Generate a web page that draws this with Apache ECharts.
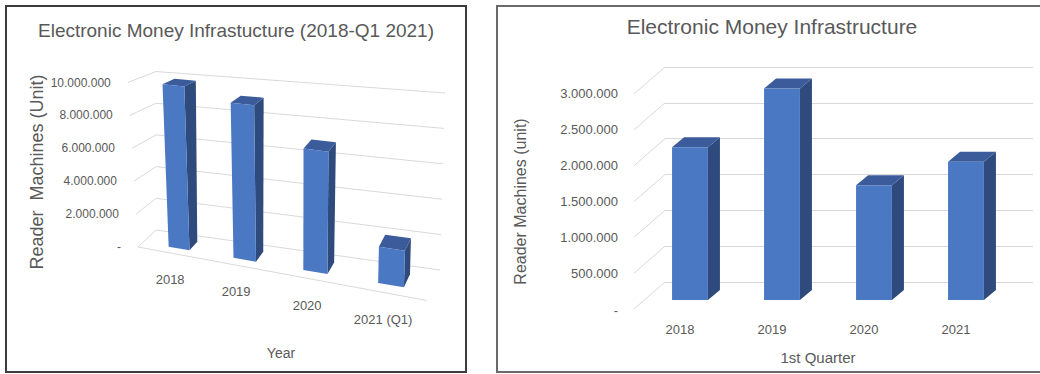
<!DOCTYPE html>
<html><head><meta charset="utf-8">
<script src="https://cdn.jsdelivr.net/npm/echarts@6/dist/echarts.min.js"></script>
<style>html,body{margin:0;padding:0;background:#fff}#c{width:1040px;height:374px}</style>
</head><body><div id="c"></div>
<script>
// ---- data ----
const leftCategories = ['2018', '2019', '2020', '2021 (Q1)'];
const leftValues = [9870000, 9200000, 7000000, 2030000];
const leftTicks = [0, 2000000, 4000000, 6000000, 8000000, 10000000];
const rightCategories = ['2018', '2019', '2020', '2021'];
const rightValues = [2130000, 2950000, 1600000, 1930000];
const rightTicks = [0, 500000, 1000000, 1500000, 2000000, 2500000, 3000000];

const leftTitle = 'Electronic Money Infrastucture (2018-Q1 2021)';
const rightTitle = 'Electronic Money Infrastructure';

// ---- style ----
const TXT = '#595959';
const GRIDC = '#d9d9d9';
const FRONT = '#4a78c3';
const SIDE = '#2f4a7c';
const TOP = '#3b5b9a';
const FONT = 'Liberation Sans';

function fmt(v) {
  if (v === 0) return '-';
  return String(v).replace(/\B(?=(\d{3})+(?!\d))/g, '.');
}

// ---- left perspective box (screen corners of the 3D box) ----
const BK = { lb: [161, 230.7], lt: [161, 71.9], rb: [440, 270], rt: [445, 93] };
const FR = { lb: [143, 247.9], lt: [133, 83.1], rb: [427, 300.5], rt: [434, 117] };
const W0 = -0.0175;
function lerp(a, b, t) { return a + (b - a) * t; }
function lerp2(p, q, t) { return [lerp(p[0], q[0], t), lerp(p[1], q[1], t)]; }
function proj(w, h, d) {
  const b = lerp2(lerp2(BK.lb, BK.rb, w), lerp2(BK.lt, BK.rt, w), h);
  const f = lerp2(lerp2(FR.lb, FR.rb, w), lerp2(FR.lt, FR.rt, w), h);
  return lerp2(b, f, d);
}
function warp(u) { return u - 0.141 * u * (1 - u); }

const chart = echarts.init(document.getElementById('c'), null, { renderer: 'svg' });

const option = {
  animation: false,
  textStyle: { fontFamily: FONT },
  graphic: [
    { type: 'rect', shape: { x: 6, y: 6, width: 460, height: 366 }, style: { fill: 'none', stroke: '#3c3c3c', lineWidth: 2 }, silent: true },
    { type: 'rect', shape: { x: 497, y: 6, width: 546, height: 366 }, style: { fill: 'none', stroke: '#6a6a6a', lineWidth: 2 }, silent: true },
    { type: 'text', x: 236, y: 30, style: { text: leftTitle, fill: TXT, font: '19px ' + FONT, align: 'center', verticalAlign: 'middle' } },
    { type: 'text', x: 772, y: 26, style: { text: rightTitle, fill: TXT, font: '21px ' + FONT, align: 'center', verticalAlign: 'middle' } },
    { type: 'text', x: 37, y: 172, rotation: Math.PI / 2, style: { text: 'Reader  Machines (Unit)', fill: TXT, font: '18px ' + FONT, align: 'center', verticalAlign: 'middle' } },
    { type: 'text', x: 281, y: 353, style: { text: 'Year', fill: TXT, font: '14px ' + FONT, align: 'center', verticalAlign: 'middle' } }
  ],
  grid: [
    { left: 665, top: 67, width: 368, height: 215 },
    { left: 634, top: 93, width: 368, height: 217 },
    { left: 150, top: 80, width: 280, height: 170 }
  ],
  xAxis: [
    { gridIndex: 0, type: 'category', data: rightCategories, show: false },
    { gridIndex: 1, type: 'category', data: rightCategories,
      axisLine: { show: false }, axisTick: { show: false },
      axisLabel: { margin: 13, color: TXT, fontSize: 13, fontFamily: FONT },
      name: '1st Quarter', nameLocation: 'middle', nameGap: 40,
      nameTextStyle: { color: TXT, fontSize: 15, fontFamily: FONT } },
    { gridIndex: 2, type: 'category', data: leftCategories, show: false }
  ],
  yAxis: [
    { gridIndex: 0, type: 'value', min: 0, max: 3000000, interval: 500000,
      axisLabel: { show: false }, axisLine: { show: false }, axisTick: { show: false },
      splitLine: { lineStyle: { color: GRIDC, width: 1 } } },
    { gridIndex: 1, type: 'value', min: 0, max: 3000000, interval: 500000,
      axisLine: { show: false }, axisTick: { show: false }, splitLine: { show: false },
      axisLabel: { formatter: fmt, margin: 16, color: TXT, fontSize: 13, fontFamily: FONT },
      name: 'Reader Machines (unit)', nameLocation: 'middle', nameGap: 106, nameRotate: 90,
      nameTextStyle: { color: TXT, fontSize: 16, fontFamily: FONT } },
    { gridIndex: 2, type: 'value', min: 0, max: 10000000, show: false }
  ],
  series: [
    // right chart: side-wall diagonals
    {
      type: 'custom', xAxisIndex: 0, yAxisIndex: 0, silent: true, z: 1,
      data: rightTicks.map(v => [0, v]),
      renderItem(params, api) {
        const rect = params.coordSys;
        const c = api.coord([0, api.value(1)]);
        return { type: 'line', shape: { x1: rect.x, y1: c[1], x2: rect.x - 31, y2: c[1] + 27 },
          style: { stroke: GRIDC, lineWidth: 1 } };
      }
    },
    // right chart: 3D bars
    {
      type: 'custom', xAxisIndex: 0, yAxisIndex: 0, silent: true, z: 3,
      data: rightValues.map((v, i) => [i, v]),
      renderItem(params, api) {
        const i = api.value(0), v = api.value(1);
        const c = api.coord([i, v]);
        const c0 = api.coord([i, 0]);
        const bw = api.size([1, 0])[0] * 0.39;
        const FX = -21, FY = 18, SX = 12, SY = -10;
        const xl = c[0] + FX - bw / 2, xr = c[0] + FX + bw / 2;
        const yt = c[1] + FY, yb = c0[1] + FY;
        return { type: 'group', children: [
          { type: 'polygon', shape: { points: [[xr, yb], [xr + SX, yb + SY], [xr + SX, yt + SY], [xr, yt]] }, style: { fill: SIDE } },
          { type: 'polygon', shape: { points: [[xl, yt], [xr, yt], [xr + SX, yt + SY], [xl + SX, yt + SY]] }, style: { fill: TOP } },
          { type: 'rect', shape: { x: xl, y: yt, width: bw, height: yb - yt }, style: { fill: FRONT } }
        ] };
      }
    },
    // left chart: walls, floor and tick labels
    {
      type: 'custom', xAxisIndex: 2, yAxisIndex: 2, silent: true, z: 1,
      data: leftTicks.map(v => [0, v]),
      renderItem(params, api) {
        const rect = params.coordSys;
        const v = api.value(1);
        const c = api.coord([0, v]);
        const h = (rect.y + rect.height - c[1]) / rect.height;
        const a = proj(W0, h, 1), b = proj(W0, h, 0), e = proj(1, h, 0);
        const ch = [
          { type: 'polyline', shape: { points: [a, b, e] }, style: { stroke: GRIDC, lineWidth: 1, fill: null } },
          { type: 'text', x: a[0] - 17, y: a[1], style: { text: fmt(v), fill: TXT, font: '12px ' + FONT, align: 'right', verticalAlign: 'middle' } }
        ];
        if (v === 0) {
          const f = proj(1, 0, 1);
          ch.push({ type: 'line', shape: { x1: a[0], y1: a[1], x2: f[0], y2: f[1] }, style: { stroke: GRIDC, lineWidth: 1 } });
        }
        return { type: 'group', children: ch };
      }
    },
    // left chart: 3D bars in perspective and category labels
    {
      type: 'custom', xAxisIndex: 2, yAxisIndex: 2, silent: true, z: 3,
      data: leftValues.map((v, i) => [i, v]),
      renderItem(params, api) {
        const rect = params.coordSys;
        const i = api.value(0), v = api.value(1);
        const c = api.coord([i, v]);
        const bw = api.size([1, 0])[0] * 0.33;
        const uc = (c[0] - rect.x) / rect.width;
        const h = (rect.y + rect.height - c[1]) / rect.height;
        const du = bw / 2 / rect.width;
        const wl = warp(uc - du), wr = warp(uc + du);
        const D1 = 0.72, D0 = 0.27;
        const fbl = proj(wl, 0, D1), fbr = proj(wr, 0, D1), ftl = proj(wl, h, D1), ftr = proj(wr, h, D1);
        const bbr = proj(wr, 0, D0), btr = proj(wr, h, D0), btl = proj(wl, h, D0);
        const lp = proj(warp(uc), 0, 1);
        return { type: 'group', children: [
          { type: 'polygon', shape: { points: [fbr, bbr, btr, ftr] }, style: { fill: SIDE } },
          { type: 'polygon', shape: { points: [ftl, ftr, btr, btl] }, style: { fill: TOP } },
          { type: 'polygon', shape: { points: [fbl, fbr, ftr, ftl] }, style: { fill: FRONT } },
          { type: 'text', x: lp[0] - 4, y: lp[1] + 26, style: { text: leftCategories[i], fill: TXT, font: '13px ' + FONT, align: 'center', verticalAlign: 'middle' } }
        ] };
      }
    }
  ]
};
chart.setOption(option);
</script>
</body></html>
